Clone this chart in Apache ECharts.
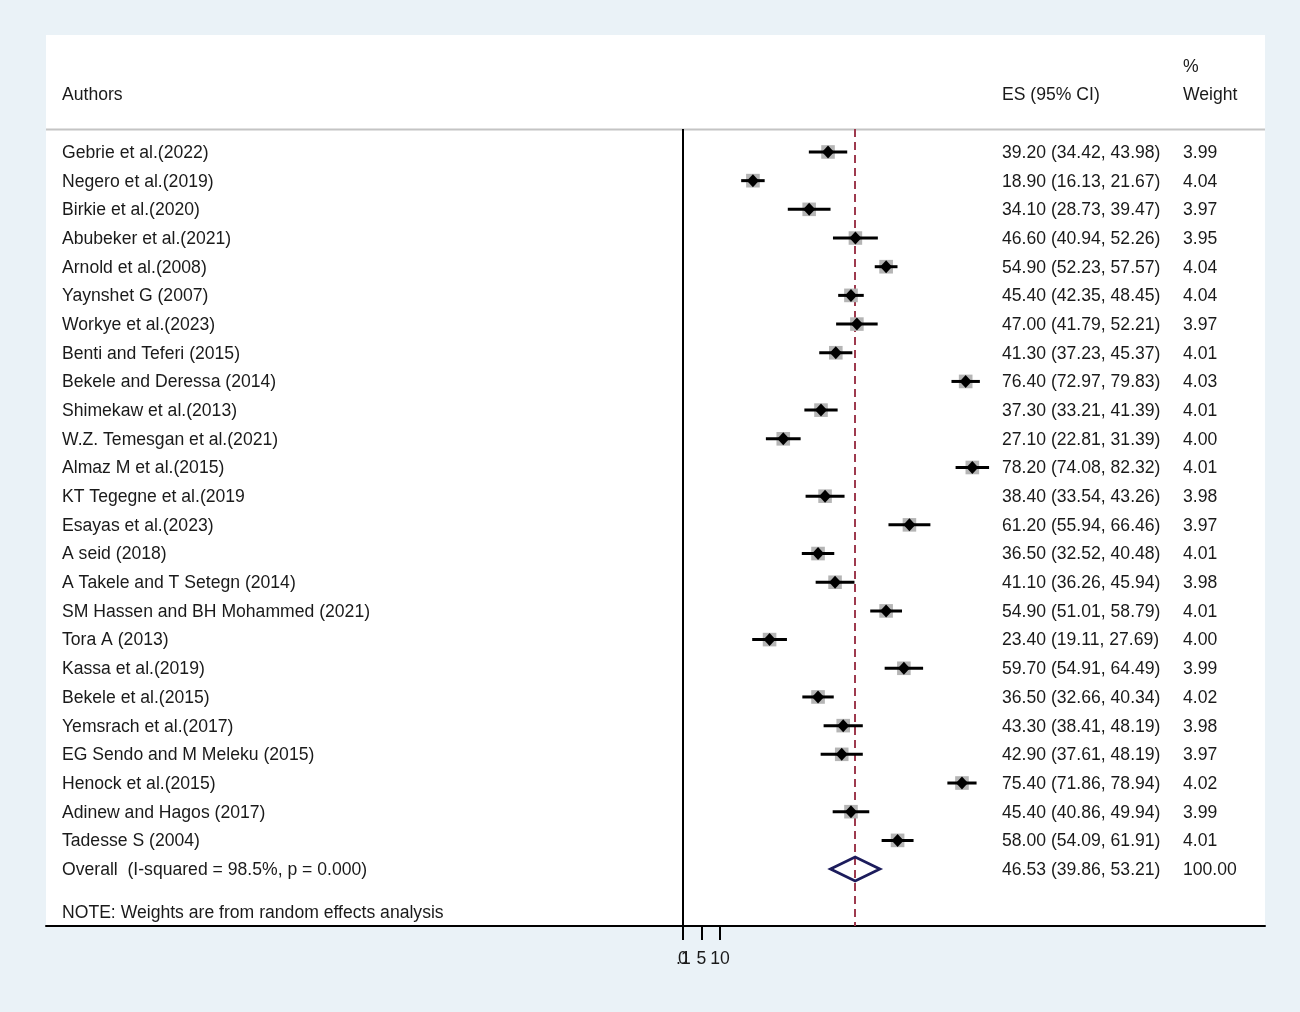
<!DOCTYPE html>
<html>
<head>
<meta charset="utf-8">
<script src="https://cdn.jsdelivr.net/npm/echarts@6/dist/echarts.min.js"></script>
<style>
  html, body { margin: 0; padding: 0; background: #eaf2f7; }
  #chart { width: 1300px; height: 1012px; }
</style>
</head>
<body>
<div id="chart"></div>
<script>
const authors = [
  'Gebrie et al.(2022)', 'Negero et al.(2019)', 'Birkie et al.(2020)', 'Abubeker et al.(2021)',
  'Arnold et al.(2008)', 'Yaynshet G (2007)', 'Workye et al.(2023)', 'Benti and Teferi (2015)',
  'Bekele and Deressa (2014)', 'Shimekaw et al.(2013)', 'W.Z. Temesgan et al.(2021)', 'Almaz M et al.(2015)',
  'KT Tegegne et al.(2019', 'Esayas et al.(2023)', 'A seid (2018)', 'A Takele and T Setegn (2014)',
  'SM Hassen and BH Mohammed (2021)', 'Tora A (2013)', 'Kassa et al.(2019)', 'Bekele et al.(2015)',
  'Yemsrach et al.(2017)', 'EG Sendo and M Meleku (2015)', 'Henock et al.(2015)', 'Adinew and Hagos (2017)',
  'Tadesse S (2004)'
];
const es = [39.20, 18.90, 34.10, 46.60, 54.90, 45.40, 47.00, 41.30, 76.40, 37.30, 27.10, 78.20, 38.40,
  61.20, 36.50, 41.10, 54.90, 23.40, 59.70, 36.50, 43.30, 42.90, 75.40, 45.40, 58.00];
const ciLow = [34.42, 16.13, 28.73, 40.94, 52.23, 42.35, 41.79, 37.23, 72.97, 33.21, 22.81, 74.08, 33.54,
  55.94, 32.52, 36.26, 51.01, 19.11, 54.91, 32.66, 38.41, 37.61, 71.86, 40.86, 54.09];
const ciHigh = [43.98, 21.67, 39.47, 52.26, 57.57, 48.45, 52.21, 45.37, 79.83, 41.39, 31.39, 82.32, 43.26,
  66.46, 40.48, 45.94, 58.79, 27.69, 64.49, 40.34, 48.19, 48.19, 78.94, 49.94, 61.91];
const weights = ['3.99', '4.04', '3.97', '3.95', '4.04', '4.04', '3.97', '4.01', '4.03', '4.01', '4.00', '4.01', '3.98',
  '3.97', '4.01', '3.98', '4.01', '4.00', '3.99', '4.02', '3.98', '3.97', '4.02', '3.99', '4.01'];
const overallLabel = 'Overall  (I-squared = 98.5%, p = 0.000)';
const overall = { es: 46.53, lo: 39.86, hi: 53.21, weight: '100.00' };
const noteText = 'NOTE: Weights are from random effects analysis';
const tickValues = [0, 5, 10];
const labelValues = [0.1, 5, 10];
const labelText = ['.1', '5', '10'];

const FONT = "'Liberation Sans', Arial, sans-serif";
const FS = 17.6;
const TXT = '#1a1a1a';
const fmt = v => v.toFixed(2);

const chart = echarts.init(document.getElementById('chart'));

const studyData = es.map((v, i) => [v, i, ciLow[i], ciHigh[i], parseFloat(weights[i])]);
const textRows = authors.map((a, i) => ({
  value: [0, i],
  author: a,
  ci: fmt(es[i]) + ' (' + fmt(ciLow[i]) + ', ' + fmt(ciHigh[i]) + ')',
  weight: weights[i]
}));
textRows.push({
  value: [0, authors.length],
  author: overallLabel,
  ci: fmt(overall.es) + ' (' + fmt(overall.lo) + ', ' + fmt(overall.hi) + ')',
  weight: overall.weight
});
textRows.push({ value: [0, authors.length + 1.5], author: noteText, ci: '', weight: '' });

function textEl(x, y, s) {
  return { type: 'text', x: x, y: y + 1, style: { text: s, fill: TXT, font: FS + 'px ' + FONT, verticalAlign: 'middle' } };
}

const axisBase = {
  type: 'value',
  min: -172.16,
  max: 157.3,
  position: 'bottom',
  splitLine: { show: false }
};

chart.setOption({
  animation: false,
  backgroundColor: '#eaf2f7',
  graphic: [
    { type: 'rect', shape: { x: 46, y: 35, width: 1219, height: 891 }, style: { fill: '#ffffff' }, z: -10 },
    { type: 'line', shape: { x1: 46, y1: 129.5, x2: 1265, y2: 129.5 }, style: { stroke: '#c4c4c4', lineWidth: 2 }, z: 1 },
    { type: 'text', left: 62, top: 86, style: { text: 'Authors', fill: TXT, font: FS + 'px ' + FONT } },
    { type: 'text', left: 1002, top: 86, style: { text: 'ES (95% CI)', fill: TXT, font: FS + 'px ' + FONT } },
    { type: 'text', left: 1183, top: 58, style: { text: '%', fill: TXT, font: FS + 'px ' + FONT } },
    { type: 'text', left: 1183, top: 86, style: { text: 'Weight', fill: TXT, font: FS + 'px ' + FONT } }
  ],
  grid: { left: 46, right: 35, top: 129, bottom: 86 },
  xAxis: [
    Object.assign({}, axisBase, {
      axisLine: { show: true, onZero: false, lineStyle: { color: '#000', width: 2 } },
      axisTick: { show: true, customValues: tickValues, length: 14, lineStyle: { color: '#000', width: 2 } },
      axisLabel: {
        customValues: labelValues,
        hideOverlap: false,
        margin: 24,
        color: TXT,
        fontSize: FS,
        fontFamily: FONT,
        formatter: v => labelText[labelValues.indexOf(v)]
      }
    }),
    Object.assign({}, axisBase, {
      axisLine: { show: false, onZero: false },
      axisTick: { show: true, customValues: [0], length: 14, lineStyle: { color: '#000', width: 2 } },
      axisLabel: {
        customValues: [0],
        hideOverlap: false,
        margin: 24,
        color: TXT,
        fontSize: FS,
        fontFamily: FONT,
        formatter: () => '0'
      }
    })
  ],
  yAxis: {
    type: 'value',
    inverse: true,
    min: -0.8008,
    max: 26.985,
    splitLine: { show: false },
    axisTick: { show: false },
    axisLabel: { show: false },
    axisLine: { show: false }
  },
  series: [
    {
      type: 'custom',
      name: 'studies',
      data: studyData,
      z: 5,
      renderItem: function (params, api) {
        const c = api.coord([api.value(0), api.value(1)]);
        const l = api.coord([api.value(2), api.value(1)]);
        const h = api.coord([api.value(3), api.value(1)]);
        const s = 6.8 * Math.sqrt(api.value(4));
        return {
          type: 'group',
          children: [
            { type: 'rect', shape: { x: c[0] - s / 2, y: c[1] - s / 2, width: s, height: s }, style: { fill: '#b5b5b5' } },
            { type: 'line', shape: { x1: l[0], y1: c[1], x2: h[0], y2: c[1] }, style: { stroke: '#000', lineWidth: 3, lineCap: 'square' } },
            { type: 'polygon', shape: { points: [[c[0], c[1] - 6.5], [c[0] + 6, c[1]], [c[0], c[1] + 6.5], [c[0] - 6, c[1]]] }, style: { fill: '#000' } }
          ]
        };
      },
      markLine: {
        silent: true,
        symbol: ['none', 'none'],
        label: { show: false },
        data: [
          { xAxis: 0, lineStyle: { color: '#000', width: 2, type: 'solid' } },
          { xAxis: overall.es, lineStyle: { color: '#9e3a4e', width: 2, type: [8, 5] } }
        ]
      }
    },
    {
      type: 'custom',
      name: 'overall',
      data: [[overall.es, authors.length, overall.lo, overall.hi]],
      z: 6,
      renderItem: function (params, api) {
        const c = api.coord([api.value(0), api.value(1)]);
        const l = api.coord([api.value(2), api.value(1)]);
        const h = api.coord([api.value(3), api.value(1)]);
        return {
          type: 'polygon',
          shape: { points: [[l[0], c[1]], [c[0], c[1] - 12], [h[0], c[1]], [c[0], c[1] + 12]] },
          style: { fill: 'none', stroke: '#1c1c5c', lineWidth: 2.8 }
        };
      }
    },
    {
      type: 'custom',
      name: 'table',
      data: textRows,
      z: 7,
      renderItem: function (params, api) {
        const row = textRows[params.dataIndex];
        const y = api.coord([0, api.value(1)])[1];
        return {
          type: 'group',
          children: [
            textEl(62, y, row.author),
            textEl(1002, y, row.ci),
            textEl(1183, y, row.weight)
          ]
        };
      }
    }
  ]
});
</script>
</body>
</html>
